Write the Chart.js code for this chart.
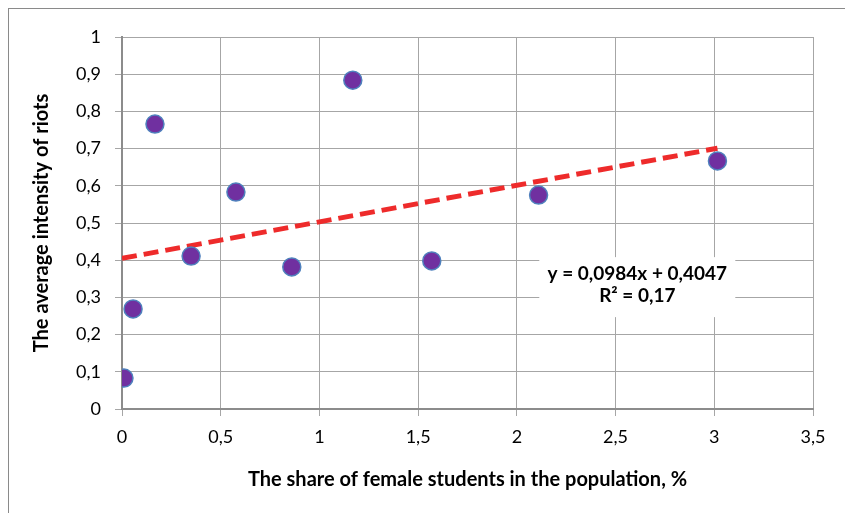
<!DOCTYPE html>
<html>
<head>
<meta charset="utf-8">
<script src="https://cdn.jsdelivr.net/npm/chart.js@4.4.1/dist/chart.umd.min.js"></script>
<style>
  html, body { margin: 0; padding: 0; background: #fff; }
  #wrap { width: 845px; height: 513px; position: relative; }
</style>
</head>
<body>
<div id="wrap"><canvas id="scatterChart"></canvas></div>
<script>
// Data
const shareFemale = [0.01, 0.056, 0.167, 0.35, 0.577, 0.86, 1.169, 1.569, 2.11, 3.016];
const riotIntensity = [0.083, 0.269, 0.766, 0.411, 0.583, 0.382, 0.884, 0.398, 0.575, 0.667];
const trendX = [0, 3.016];
const trendY = [0.405, 0.701];
const equationLines = ['y = 0,0984x + 0,4047', 'R\u00b2 = 0,17'];

const FONT = 'Lato, "Open Sans", sans-serif';

function commaTick(v) {
  return String(Math.round(v * 10) / 10).replace('.', ',');
}

// Outer frame and the trend line equation box
const extrasPlugin = {
  id: 'extras',
  beforeDraw(chart) {
    const ctx = chart.ctx;
    ctx.save();
    ctx.strokeStyle = '#8a8a8a';
    ctx.lineWidth = 1;
    ctx.strokeRect(8.5, 8.5, 900, 600);
    ctx.restore();
  },
  afterDraw(chart) {
    const ctx = chart.ctx;
    const xs = chart.scales.x, ys = chart.scales.y;
    const cx = xs.getPixelForValue(2.61);
    const cy = ys.getPixelForValue(0.333);
    ctx.save();
    ctx.fillStyle = '#fff';
    ctx.fillRect(cx - 98, cy - 28, 196, 60);
    ctx.fillStyle = '#000';
    ctx.font = 'bold 19px ' + FONT;
    ctx.textAlign = 'center';
    ctx.textBaseline = 'middle';
    ctx.fillText(equationLines[0], cx, cy - 11);
    ctx.fillText(equationLines[1], cx, cy + 11);
    ctx.restore();
  }
};

const ctx = document.getElementById('scatterChart').getContext('2d');
new Chart(ctx, {
  type: 'scatter',
  data: {
    datasets: [{
      label: 'Trend',
      type: 'line',
      data: trendX.map((x, i) => ({ x: x, y: trendY[i] })),
      borderColor: '#ee2b2b',
      borderWidth: 5,
      borderDash: [15, 7],
      pointRadius: 0,
      fill: false,
      order: 1
    }, {
      label: 'Riots',
      data: shareFemale.map((x, i) => ({ x: x, y: riotIntensity[i] })),
      backgroundColor: '#7030a0',
      borderColor: '#4f81bd',
      borderWidth: 1.5,
      pointRadius: 9,
      order: 0
    }]
  },
  options: {
    responsive: true,
    maintainAspectRatio: false,
    animation: false,
    layout: { padding: { left: 0, top: 37, right: 32, bottom: 0 } },
    plugins: {
      legend: { display: false },
      tooltip: { enabled: false }
    },
    scales: {
      x: {
        type: 'linear',
        min: 0,
        max: 3.5,
        ticks: {
          stepSize: 0.5,
          padding: 10,
          color: '#000',
          font: { family: FONT, size: 18 },
          callback: commaTick
        },
        grid: { color: '#a6a6a6', tickLength: 7, lineWidth: 1 },
        border: { color: '#8c8c8c', width: 2 },
        title: {
          display: true,
          text: 'The share of female students in the population, %',
          color: '#000',
          font: { family: FONT, size: 20, weight: 'bold' },
          padding: { top: 0, bottom: 21 }
        },
        afterFit(scale) { scale.height = 104; }
      },
      y: {
        type: 'linear',
        min: 0,
        max: 1,
        ticks: {
          stepSize: 0.1,
          padding: 14,
          color: '#000',
          font: { family: FONT, size: 18 },
          callback: commaTick
        },
        grid: { color: '#a6a6a6', tickLength: 7, lineWidth: 1 },
        border: { color: '#8c8c8c', width: 2 },
        title: {
          display: true,
          text: 'The average intensity of riots',
          color: '#000',
          font: { family: FONT, size: 20, weight: 'bold' },
          padding: { top: 30, bottom: 0 }
        },
        afterFit(scale) { scale.width = 122; }
      }
    }
  },
  plugins: [extrasPlugin]
});
</script>
</body>
</html>
